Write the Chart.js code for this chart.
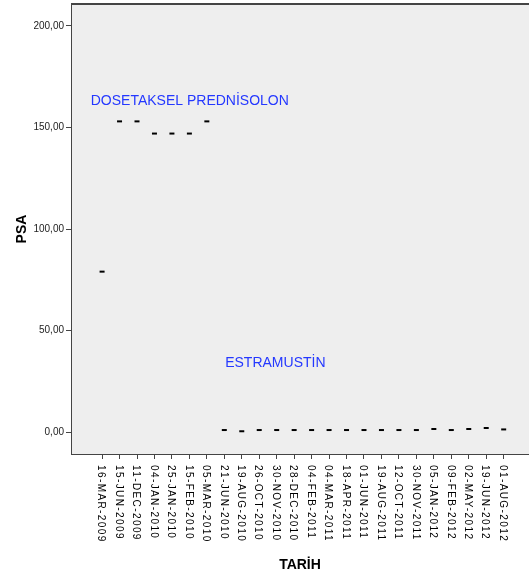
<!DOCTYPE html>
<html lang="tr">
<head>
    <meta charset="UTF-8">
    <title>PSA - TARİH</title>
    <script src="https://cdn.jsdelivr.net/npm/chart.js"></script>
    <style>
        body { margin: 0; background: #fff; }
        #chart { display: block; }
    </style>
</head>
<body>
    <canvas id="chart" width="529" height="574"></canvas>
    <script>
        // Tarihler (x ekseni)
        const dates = ['16-MAR-2009', '15-JUN-2009', '11-DEC-2009', '04-JAN-2010', '25-JAN-2010', '15-FEB-2010',
            '05-MAR-2010', '21-JUN-2010', '19-AUG-2010', '26-OCT-2010', '30-NOV-2010', '28-DEC-2010',
            '04-FEB-2011', '04-MAR-2011', '18-APR-2011', '01-JUN-2011', '19-AUG-2011', '12-OCT-2011',
            '30-NOV-2011', '05-JAN-2012', '09-FEB-2012', '02-MAY-2012', '19-JUN-2012', '01-AUG-2012'];
        // PSA değerleri
        const psa = [79, 153, 153, 147, 147, 147, 153, 1.0, 0.4, 1.0, 1.0, 1.0, 1.0, 1.0, 1.0, 1.0, 1.0, 1.0,
            1.0, 1.5, 1.0, 1.5, 2.0, 1.3];
        const yTicks = [0, 50, 100, 150, 200];
        const notes = ['DOSETAKSEL PREDNİSOLON', 'ESTRAMUSTİN'];

        const fmt = v => v.toFixed(2).replace('.', ',');
        const axisColor = '#444';
        const sans = "'Liberation Sans', Arial, sans-serif";

        const frame = {
            id: 'frame',
            beforeDraw(chart) {
                const { ctx, chartArea: a } = chart;
                ctx.save();
                ctx.fillStyle = '#eeeeee';
                ctx.fillRect(a.left, a.top, a.right - a.left, a.bottom - a.top);
                ctx.fillStyle = axisColor;
                ctx.fillRect(a.left, a.top - 1, a.right - a.left, 2);
                ctx.restore();
            },
            afterDraw(chart) {
                const { ctx, chartArea: a } = chart;
                const x = chart.scales.x, y = chart.scales.y;
                ctx.save();
                // x etiketleri, yukarıdan aşağıya
                ctx.fillStyle = '#000';
                ctx.font = '10px ' + sans;
                ctx.letterSpacing = '1.4px';
                ctx.textAlign = 'left';
                ctx.textBaseline = 'middle';
                dates.forEach((d, i) => {
                    ctx.save();
                    ctx.translate(x.getPixelForValue(i) - 1, a.bottom + 11);
                    ctx.rotate(Math.PI / 2);
                    ctx.fillText(d, 0, 0);
                    ctx.restore();
                });
                // ilaç notları
                ctx.letterSpacing = '0px';
                ctx.fillStyle = '#2438ff';
                ctx.font = '14px ' + sans;
                ctx.fillText(notes[0], x.getPixelForValue(-0.65), y.getPixelForValue(163));
                ctx.fillText(notes[1], x.getPixelForValue(7.05), y.getPixelForValue(34));
                ctx.restore();
            }
        };

        new Chart(document.getElementById('chart'), {
            type: 'scatter',
            data: {
                datasets: [{
                    label: 'PSA',
                    data: psa.map((v, i) => ({ x: i, y: v })),
                    pointStyle: 'line',
                    pointRadius: 2.5,
                    pointHoverRadius: 2.5,
                    borderWidth: 2,
                    borderColor: '#000',
                    backgroundColor: '#000'
                }]
            },
            options: {
                responsive: false,
                animation: false,
                layout: { autoPadding: false, padding: { top: 4, right: 0, left: 0, bottom: 0 } },
                plugins: {
                    legend: { display: false },
                    tooltip: { enabled: false }
                },
                scales: {
                    x: {
                        type: 'linear',
                        min: -1.78,
                        max: 24.45,
                        afterBuildTicks: s => { s.ticks = dates.map((d, i) => ({ value: i })); },
                        afterFit: s => {
                            s.height = 120;
                            s.paddingLeft = 0;
                            s.paddingRight = 0;
                        },
                        grid: { drawOnChartArea: false, drawTicks: true, tickLength: 5, color: axisColor },
                        border: { display: true, color: axisColor, width: 1 },
                        ticks: { display: false },
                        title: {
                            display: true,
                            text: 'TARİH',
                            color: '#000',
                            font: { family: sans, size: 14, weight: 'bold' },
                            padding: { top: 0, bottom: 0 }
                        }
                    },
                    y: {
                        min: -10.8,
                        max: 210.8,
                        afterBuildTicks: s => { s.ticks = yTicks.map(v => ({ value: v })); },
                        afterFit: s => {
                            s.width = 71;
                            s.paddingTop = 0;
                            s.paddingBottom = 0;
                        },
                        grid: { drawOnChartArea: false, drawTicks: true, tickLength: 5, color: axisColor },
                        border: { display: true, color: axisColor, width: 1 },
                        ticks: {
                            padding: 2,
                            color: '#222',
                            font: { family: sans, size: 10 },
                            callback: v => fmt(v)
                        },
                        title: {
                            display: true,
                            text: 'PSA',
                            color: '#000',
                            font: { family: sans, size: 14, weight: 'bold' },
                            padding: { top: 14, bottom: 0 }
                        }
                    }
                }
            },
            plugins: [frame]
        });
    </script>
</body>
</html>
